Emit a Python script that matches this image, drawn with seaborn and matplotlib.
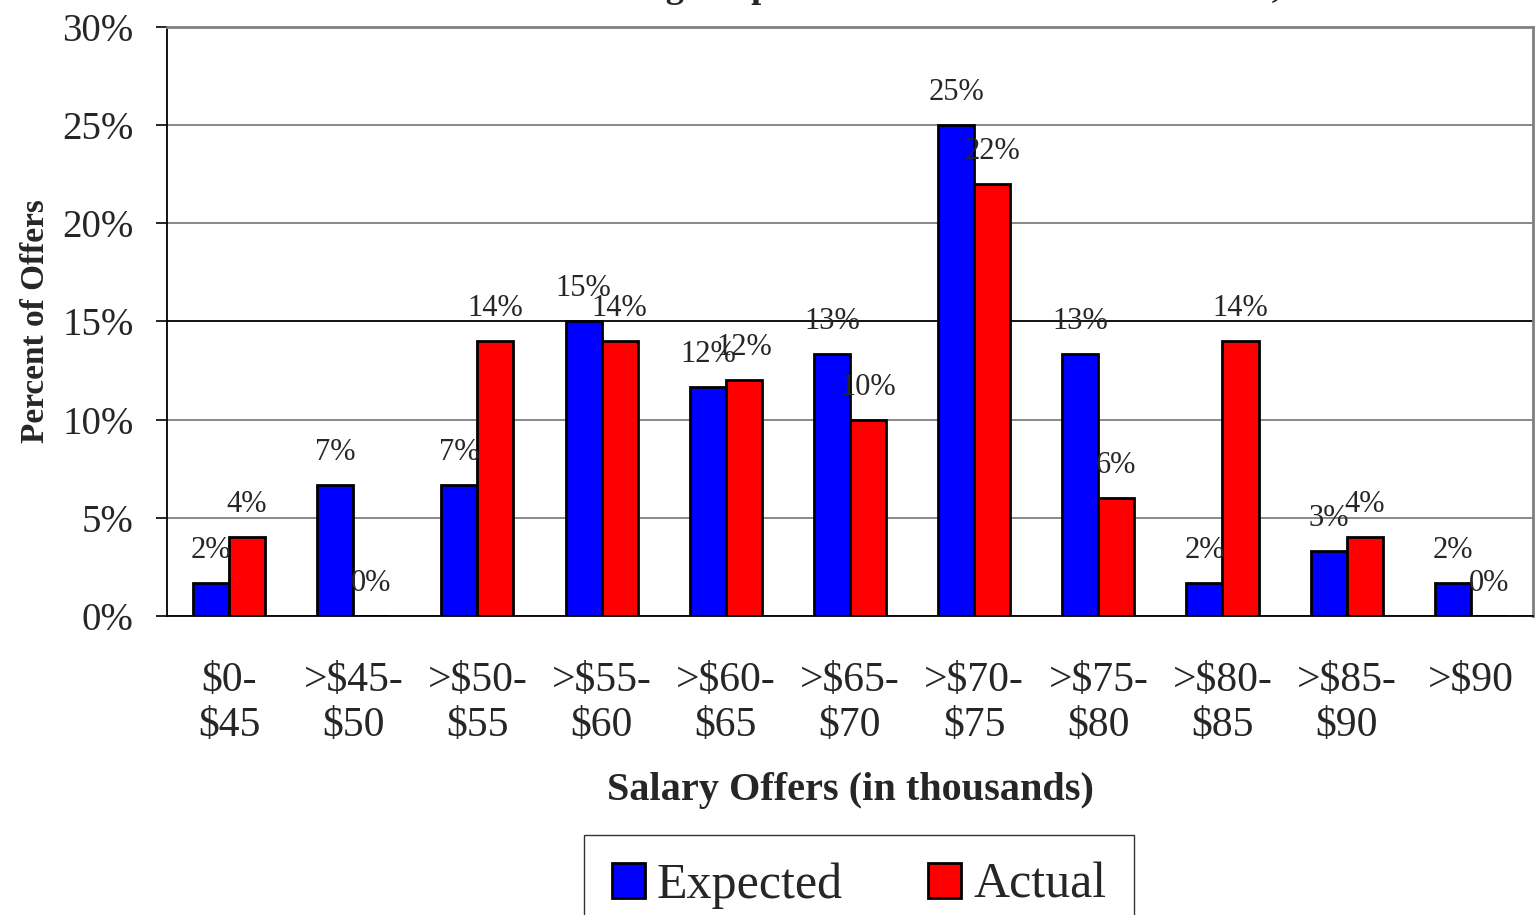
import seaborn as sns
import matplotlib.pyplot as plt
import pandas as pd

# salary ranges and percent of offers
ranges = ["$0-\n$45", ">$45-\n$50", ">$50-\n$55", ">$55-\n$60", ">$60-\n$65", ">$65-\n$70",
          ">$70-\n$75", ">$75-\n$80", ">$80-\n$85", ">$85-\n$90", ">$90"]
expected = [1.67, 6.67, 6.67, 15.0, 11.67, 13.33, 25.0, 13.33, 1.67, 3.33, 1.67]
actual = [4, 0, 14, 14, 12, 10, 22, 6, 14, 4, 0]
series = ["Expected", "Actual"]
colors = {"Expected": "#0000FF", "Actual": "#FF0000"}
yticks = [0, 5, 10, 15, 20, 25, 30]

df = pd.DataFrame({
    "range": ranges * 2,
    "series": ["Expected"] * len(ranges) + ["Actual"] * len(ranges),
    "pct": expected + actual,
})

sns.set_style("white")
plt.rcParams["font.family"] = ["Liberation Serif", "DejaVu Serif"]

fig = plt.figure(figsize=(15.38, 9.15), dpi=100)
ax = fig.add_axes([0.1086, 0.3268, 0.8881, 0.6437])

sns.barplot(data=df, x="range", y="pct", hue="series", hue_order=series,
            palette=colors, width=0.58, gap=0, edgecolor="black", linewidth=2,
            saturation=1, legend=False, ax=ax, zorder=3)

for cont in ax.containers:
    vals = [b.get_height() for b in cont]
    ax.bar_label(cont, labels=[f"{v:.0f}%" for v in vals], padding=13, fontsize=22)

ax.set_xlim(-0.5, len(ranges) - 0.5)
ax.set_ylim(0, 30)
ax.set_yticks(yticks)
ax.set_yticklabels([f"{t}%" for t in yticks], fontsize=28)
ax.yaxis.grid(True, color="#808080", linewidth=1.3, zorder=0)
ax.get_ygridlines()[3].set_color("black")
ax.set_axisbelow(True)

ax.set_xticks(range(len(ranges)))
ax.set_xticklabels(ranges, fontsize=30, linespacing=1.2)
ax.set_xticks([i - 0.5 for i in range(len(ranges) + 1)], minor=True)
ax.tick_params(axis="x", which="major", length=0, pad=33)
ax.tick_params(axis="x", which="minor", length=10, width=1.2, color="black", direction="out")
ax.tick_params(axis="y", length=8, width=1.2, color="black", direction="out", left=True, pad=16)

for s in ["left", "bottom"]:
    ax.spines[s].set_color("black")
    ax.spines[s].set_linewidth(1.3)
for s in ["top", "right"]:
    ax.spines[s].set_color("#808080")
    ax.spines[s].set_linewidth(2)

ax.set_xlabel("Salary Offers (in thousands)", fontsize=29, fontweight="bold", labelpad=20)
ax.set_ylabel("Percent of Offers", fontsize=24, fontweight="bold", labelpad=8)

# title sits mostly above the picture, only descenders show
fig.text(0.373, 1 + 3 / 915, "Average Expected vs. Actual Salaries Offered, 2005",
         fontsize=26, fontweight="bold", va="baseline", ha="left")

handles = [plt.Rectangle((0, 0), 1, 1, facecolor=colors[s], edgecolor="black", linewidth=2)
           for s in series]
leg = fig.legend(handles, series, loc="upper center", bbox_to_anchor=(859 / 1538, 1 - 835 / 915),
                 ncol=2, fontsize=36, frameon=True, fancybox=False, handlelength=0.66,
                 handleheight=0.7, handletextpad=0.24, columnspacing=1.7, borderpad=0.55,
                 borderaxespad=0)
leg.get_frame().set_edgecolor("black")
leg.get_frame().set_linewidth(1)

fig.savefig("out.png", dpi=100)
